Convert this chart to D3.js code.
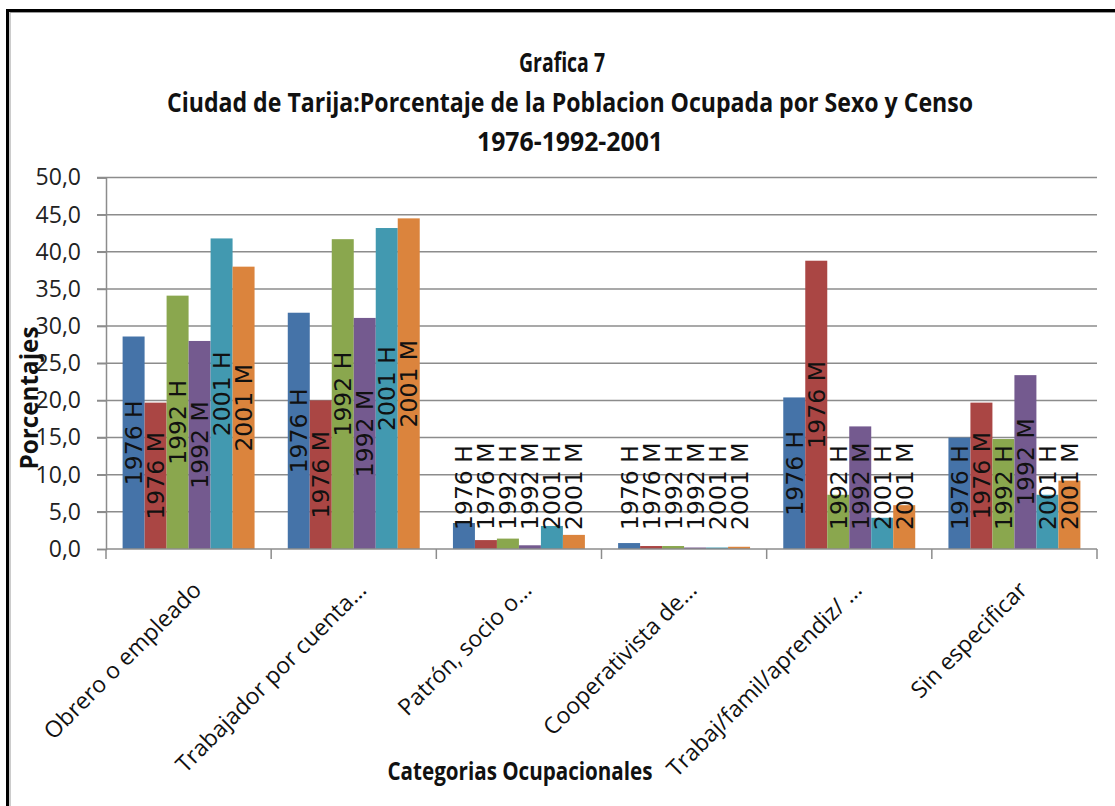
<!DOCTYPE html>
<html>
<head>
<meta charset="utf-8">
<script src="https://cdn.jsdelivr.net/npm/d3@7"></script>
<style>
  body { margin: 0; background: #fff; }
  .calib { font-family: 'Open Sans', sans-serif; }
  .dlabel { font-family: 'DejaVu Sans', sans-serif; }
</style>
</head>
<body>
<div id="chart"></div>
<script>
// Data
var categories = ['Obrero o empleado', 'Trabajador por cuenta...', 'Patrón, socio o...',
  'Cooperativista de...', 'Trabaj/famil/aprendiz/ ...', 'Sin especificar'];
var series = ['1976 H', '1976 M', '1992 H', '1992 M', '2001 H', '2001 M'];
var h1976 = [28.6, 31.8, 3.5, 0.8, 20.4, 15.0];
var m1976 = [19.7, 20.0, 1.2, 0.4, 38.8, 19.7];
var h1992 = [34.1, 41.7, 1.4, 0.4, 7.3, 14.8];
var m1992 = [28.0, 31.1, 0.5, 0.2, 16.5, 23.4];
var h2001 = [41.8, 43.2, 3.1, 0.2, 4.2, 7.3];
var m2001 = [38.0, 44.5, 1.9, 0.3, 5.9, 9.2];
var yTicks = [0, 5, 10, 15, 20, 25, 30, 35, 40, 45, 50];
var colors = ['#4573A8', '#AA4644', '#8AA74E', '#745A8F', '#4299B0', '#DB843D'];

var values = [h1976, m1976, h1992, m1992, h2001, m2001];
var rows = [];
categories.forEach(function(c, i) {
  series.forEach(function(s, j) {
    rows.push({cat: c, ser: s, val: values[j][i], idx: j});
  });
});

var svgWidth = 1115, svgHeight = 806;
var plot = {left: 106, right: 1097, top: 177.5, bottom: 549};

var svg = d3.select('#chart')
  .append('svg')
  .attr('width', svgWidth)
  .attr('height', svgHeight);

svg.append('rect')
  .attr('width', svgWidth).attr('height', svgHeight)
  .attr('fill', '#fff');

// chart frame
svg.append('rect')
  .attr('x', 7.5).attr('y', 10.5)
  .attr('width', 1200).attr('height', 900)
  .attr('fill', 'none').attr('stroke', '#000').attr('stroke-width', 3);
svg.append('rect')
  .attr('x', 10).attr('y', 12.5)
  .attr('width', 1200).attr('height', 900)
  .attr('fill', 'none').attr('stroke', '#9a9a9a').attr('stroke-width', 1);

var x = d3.scaleBand()
  .domain(categories)
  .range([plot.left, plot.right]);

var xInner = d3.scaleBand()
  .domain(series)
  .range([0, x.bandwidth()])
  .paddingOuter(0.755);

var y = d3.scaleLinear()
  .domain([0, 50])
  .range([plot.bottom, plot.top]);

// gridlines
svg.append('g')
  .selectAll('line')
  .data(yTicks.filter(function(d) { return d > 0; }))
  .enter()
  .append('line')
  .attr('x1', plot.left - 9).attr('x2', plot.right)
  .attr('y1', function(d) { return y(d); })
  .attr('y2', function(d) { return y(d); })
  .attr('stroke', '#8c8c8c').attr('stroke-width', 1.5);

// y axis
var yAxis = svg.append('g')
  .attr('transform', 'translate(' + plot.left + ',0)')
  .call(d3.axisLeft(y)
    .tickValues(yTicks)
    .tickSize(9)
    .tickPadding(16)
    .tickFormat(function(d) { return d.toFixed(1).replace('.', ','); }));
yAxis.select('.domain').attr('stroke', '#8c8c8c').attr('stroke-width', 1.5);
yAxis.selectAll('.tick line').attr('stroke', '#8c8c8c').attr('stroke-width', 1.5);
yAxis.selectAll('.tick text')
  .attr('class', 'calib')
  .attr('font-size', 23)
  .attr('fill', '#222');

// bars
svg.append('g')
  .selectAll('rect')
  .data(rows)
  .enter()
  .append('rect')
  .attr('x', function(d) { return x(d.cat) + xInner(d.ser); })
  .attr('width', xInner.bandwidth())
  .attr('y', function(d) { return y(d.val); })
  .attr('height', function(d) { return y(0) - y(d.val); })
  .attr('fill', function(d) { return colors[d.idx]; });

// x axis
var xAxisG = svg.append('g');
xAxisG.append('line')
  .attr('x1', plot.left).attr('x2', plot.right)
  .attr('y1', plot.bottom).attr('y2', plot.bottom)
  .attr('stroke', '#8c8c8c').attr('stroke-width', 1.5);
var bounds = categories.map(function(c) { return x(c); }).concat([plot.right]);
xAxisG.selectAll('.xtick')
  .data(bounds)
  .enter()
  .append('line')
  .attr('x1', function(d) { return d; }).attr('x2', function(d) { return d; })
  .attr('y1', plot.bottom).attr('y2', plot.bottom + 10)
  .attr('stroke', '#8c8c8c').attr('stroke-width', 1.5);

xAxisG.selectAll('.xlab')
  .data(categories)
  .enter()
  .append('text')
  .attr('class', 'calib')
  .attr('transform', function(d) {
    return 'translate(' + (x(d) + x.bandwidth() / 2) + ',' + plot.bottom + ') rotate(-45)';
  })
  .attr('x', -20)
  .attr('y', 40)
  .attr('text-anchor', 'end')
  .attr('font-size', 23)
  .attr('fill', '#111')
  .text(function(d) { return d; });

// data labels
var labels = svg.append('g')
  .selectAll('text')
  .data(rows)
  .enter()
  .append('text')
  .attr('class', 'dlabel')
  .attr('font-size', 23.5)
  .attr('fill', '#111')
  .attr('dy', '0.36em')
  .text(function(d) { return d.ser; });

labels.each(function(d) {
  var len = this.getComputedTextLength();
  var mid = (y(0) + y(d.val)) / 2;
  var start = Math.min(mid + len / 2, plot.bottom - 19);
  var cx = x(d.cat) + xInner(d.ser) + xInner.bandwidth() / 2;
  d3.select(this).attr('transform', 'translate(' + cx + ',' + start + ') rotate(-90)');
});

// titles
var titleLines = ['Grafica 7', 'Ciudad de Tarija:Porcentaje de la Poblacion Ocupada por Sexo y Censo', '1976-1992-2001'];
var titleWidths = [86, 806, 186];
svg.append('g')
  .selectAll('text')
  .data(titleLines)
  .enter()
  .append('text')
  .attr('class', 'calib')
  .attr('x', function(d, i) { return [562, 570, 570][i]; })
  .attr('y', function(d, i) { return [72, 112, 151][i]; })
  .attr('text-anchor', 'middle')
  .attr('font-size', 26)
  .attr('font-weight', 'bold')
  .attr('textLength', function(d, i) { return titleWidths[i]; })
  .attr('lengthAdjust', 'spacingAndGlyphs')
  .attr('fill', '#111')
  .text(function(d) { return d; });

svg.append('text')
  .attr('class', 'calib')
  .attr('transform', 'translate(38,398) rotate(-90)')
  .attr('text-anchor', 'middle')
  .attr('font-size', 25)
  .attr('font-weight', 'bold')
  .attr('textLength', 143)
  .attr('lengthAdjust', 'spacingAndGlyphs')
  .attr('fill', '#111')
  .text('Porcentajes');

svg.append('text')
  .attr('class', 'calib')
  .attr('x', 520)
  .attr('y', 780)
  .attr('text-anchor', 'middle')
  .attr('font-size', 25)
  .attr('font-weight', 'bold')
  .attr('textLength', 265)
  .attr('lengthAdjust', 'spacingAndGlyphs')
  .attr('fill', '#111')
  .text('Categorias Ocupacionales');
</script>
</body>
</html>
